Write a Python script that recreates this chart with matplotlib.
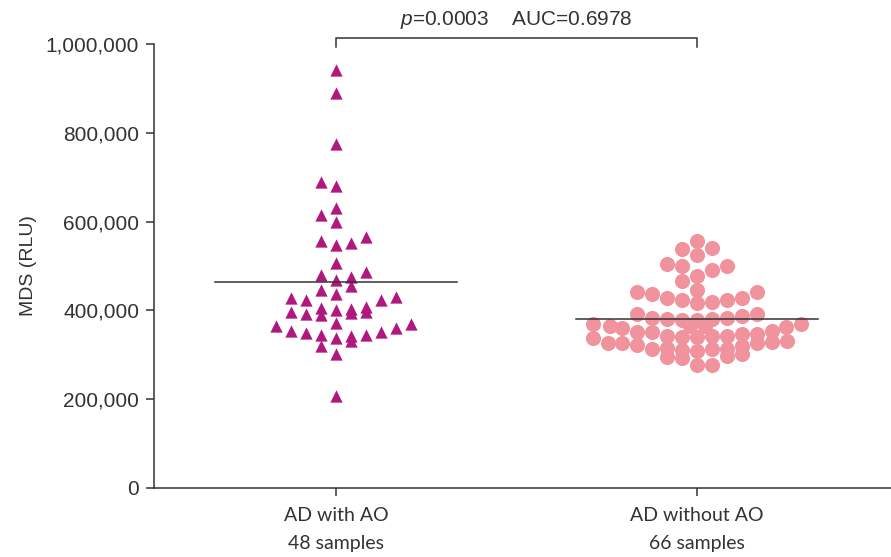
import numpy as np
import matplotlib
matplotlib.use("Agg")
import matplotlib.pyplot as plt
from matplotlib.ticker import FuncFormatter

# groups and labels
groups = ["AD with AO\n48 samples", "AD without AO\n66 samples"]

# MDS values (thousands RLU) and beeswarm slot
ao_vals = [942, 889, 774, 690, 680, 630, 614, 599,
           556, 548, 552, 566, 506,
           479, 468, 475, 487, 456, 445, 436,
           428, 423, 424, 430,
           397, 392, 406, 389, 402, 403, 394, 407, 397,
           364, 353, 349, 345, 372, 338, 342, 332, 345, 351, 360, 369,
           319, 302, 208]
ao_slot = [0, 0, 0, -1, 0, 0, -1, 0,
           -1, 0, 1, 2, 0,
           -1, 0, 1, 2, 1, -1, 0,
           -3, -2, 3, 4,
           -3, -2, -1, -1, 0, 1, 1, 2, 2,
           -4, -3, -2, -1, 0, 0, 1, 1, 2, 3, 4, 5,
           -1, 0, 0]

noao_vals = [557, 539, 540, 524,
             504, 500, 492, 500, 478, 467, 446,
             442, 438, 427, 424, 417, 420, 424, 427, 442,
             393, 384, 381, 379, 379, 381, 384, 388, 392,
             370, 366, 360, 366, 366, 370, 363, 354,
             351, 351, 342, 340, 341, 343, 343, 348, 348,
             338, 327, 327, 323, 327, 329, 332,
             314, 315, 310, 308, 313, 314, 319,
             296, 292, 297, 302,
             276, 276]
noao_slot = [0, -1, 1, 0,
             -2, -1, 1, 2, 0, -1, 0,
             -4, -3, -2, -1, 0, 1, 2, 3, 4,
             -4, -3, -2, -1, 0, 1, 2, 3, 4,
             -6.9, -5.8, -5, -0.5, 0.5, 6.9, 5.9, 5,
             -4, -3, -2, -1, 0, 1, 2, 3, 4,
             -6.9, -5.9, -5, -4, 4, 5, 6,
             -3, -2, -1, 0, 1, 2, 3,
             -2, -1, 2, 3,
             0, 1]

medians = [463, 381]
p_text = "$p$=0.0003    AUC=0.6978"

yticks = [0, 200000, 400000, 600000, 800000, 1000000]

plt.rcParams['font.family'] = ['Liberation Sans', 'DejaVu Sans']
plt.rcParams['mathtext.fontset'] = 'custom'
plt.rcParams['mathtext.it'] = 'Liberation Sans:italic'
plt.rcParams['mathtext.rm'] = 'Liberation Sans'

fig = plt.figure(figsize=(8.91, 5.57), dpi=100)
ax = fig.add_axes([0.1732, 0.1239, 0.8268, 0.797])

step = 0.0416
ax.scatter(0 + np.array(ao_slot) * step, np.array(ao_vals) * 1000,
           marker='^', s=78, color='#b0177f', linewidths=0, zorder=3)
ax.scatter(1 + np.array(noao_slot) * step, np.array(noao_vals) * 1000,
           marker='o', s=118, color='#f0939c', linewidths=0, zorder=3)

for i, m in enumerate(medians):
    ax.plot([i - 0.335, i + 0.335], [m * 1000, m * 1000], color='#333333', lw=1.1, zorder=4)

ax.set_xlim(-0.503, 1.537)
ax.set_ylim(0, 1000000)
ax.set_xticks([0, 1])
ax.set_xticklabels(groups, fontsize=14, color='#333333', linespacing=1.72,
                   family=['Lato', 'DejaVu Sans'])
ax.set_yticks(yticks)
ax.yaxis.set_major_formatter(FuncFormatter(lambda v, _: f"{int(v):,}"))
ax.tick_params(axis='y', labelsize=15, labelcolor='#333333', length=6, width=1.1, color='#333333', pad=5)
ax.tick_params(axis='x', length=6, width=1.1, color='#333333', pad=8)

for s in ['top', 'right']:
    ax.spines[s].set_visible(False)
for s in ['left', 'bottom']:
    ax.spines[s].set_linewidth(1.1)
    ax.spines[s].set_color('#333333')

ax.set_ylabel("MDS (RLU)", fontsize=14, color='#333333')
ax.yaxis.set_label_coords(-0.159, 0.5)

# significance bracket
ax.plot([0, 0, 1, 1], [992500, 1013500, 1013500, 992500], color='#333333', lw=1.1, clip_on=False)
ax.text(0.5, 1054000, p_text, ha='center', va='center', fontsize=15, color='#333333')

fig.savefig("out.png", dpi=100)
